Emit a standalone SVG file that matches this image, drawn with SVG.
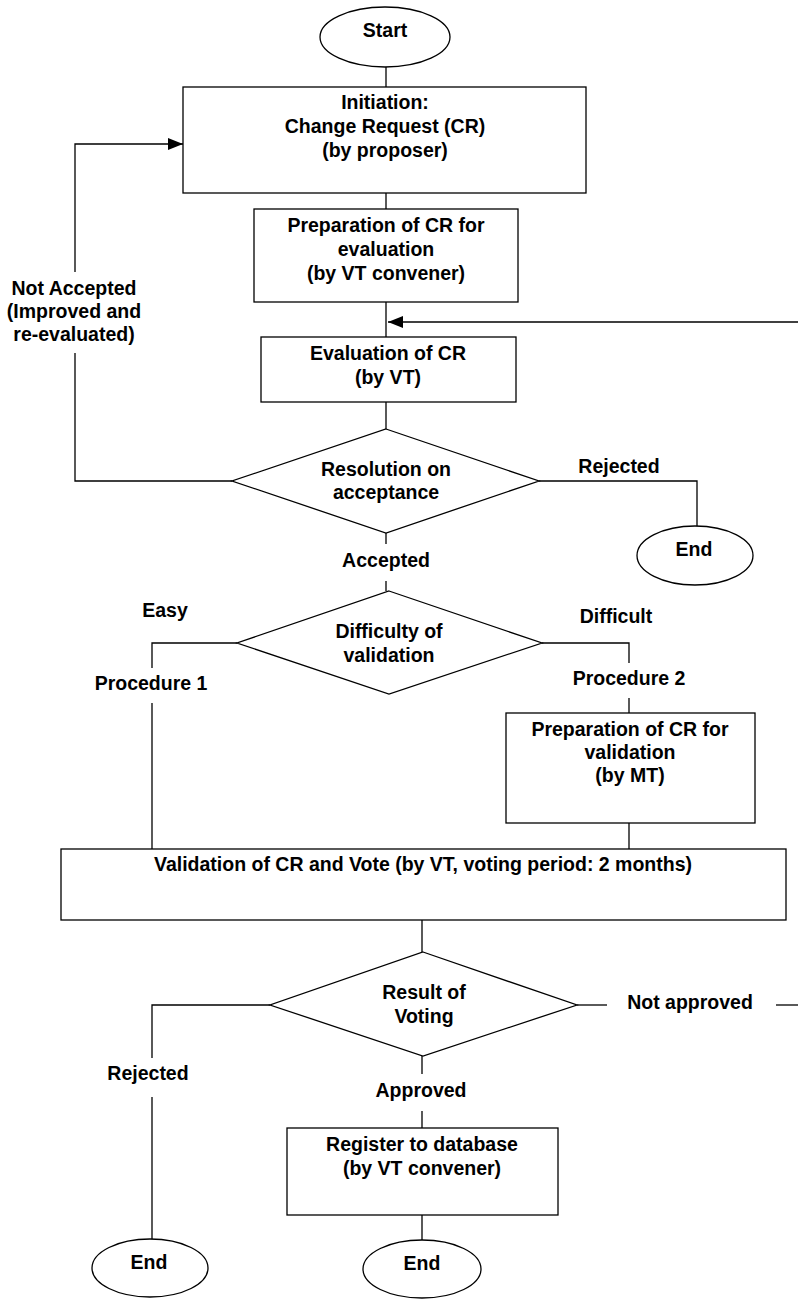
<svg xmlns="http://www.w3.org/2000/svg" width="798" height="1299" viewBox="0 0 798 1299">
<style>
  .s{fill:#fff;stroke:#000;stroke-width:1.3}
  .c{fill:none;stroke:#000;stroke-width:1.3}
  text{font-family:"Liberation Sans",Arial,sans-serif;font-weight:bold;font-size:19.5px;fill:#000;text-anchor:middle}
</style>
<defs>
  <marker id="arr" viewBox="0 0 15 12" refX="15" refY="6" markerWidth="15" markerHeight="12" markerUnits="userSpaceOnUse" orient="auto">
    <path d="M0,0 L15,6 L0,12 Z" fill="#000"/>
  </marker>
</defs>
<rect width="798" height="1299" fill="#fff"/>
<g id="connectors">
  <line class="c" x1="386" y1="67" x2="386" y2="87"/>
  <line class="c" x1="386" y1="193" x2="386" y2="209"/>
  <line class="c" x1="386" y1="302" x2="386" y2="337"/>
  <line class="c" x1="386" y1="402" x2="386" y2="429"/>
  <line class="c" x1="798" y1="322" x2="388" y2="322" marker-end="url(#arr)"/>
  <polyline class="c" points="232,481 75,481 75,353"/>
  <polyline class="c" points="75,272 75,144 183,144" marker-end="url(#arr)"/>
  <polyline class="c" points="539,481 697,481 697,526"/>
  <line class="c" x1="386" y1="533" x2="386" y2="544"/>
  <line class="c" x1="386" y1="581" x2="386" y2="591"/>
  <polyline class="c" points="237,643 152,643 152,668"/>
  <line class="c" x1="152" y1="703" x2="152" y2="849"/>
  <polyline class="c" points="542,643 629,643 629,663"/>
  <line class="c" x1="629" y1="698" x2="629" y2="713"/>
  <line class="c" x1="629" y1="823" x2="629" y2="849"/>
  <line class="c" x1="422" y1="920" x2="422" y2="952"/>
  <polyline class="c" points="270,1005 152,1005 152,1058"/>
  <line class="c" x1="152" y1="1097" x2="152" y2="1239"/>
  <line class="c" x1="577" y1="1005" x2="607" y2="1005"/>
  <line class="c" x1="776" y1="1005" x2="798" y2="1005"/>
  <line class="c" x1="422" y1="1056" x2="422" y2="1074"/>
  <line class="c" x1="422" y1="1111" x2="422" y2="1128"/>
  <line class="c" x1="422" y1="1215" x2="422" y2="1240"/>
</g>
<g id="labels">
  <text x="74" y="295">Not Accepted</text>
  <text x="74" y="318">(Improved and</text>
  <text x="74" y="341">re-evaluated)</text>
  <text x="619" y="473">Rejected</text>
  <text x="386" y="567">Accepted</text>
  <text x="165" y="617">Easy</text>
  <text x="616" y="623">Difficult</text>
  <text x="151" y="690">Procedure 1</text>
  <text x="629" y="685">Procedure 2</text>
  <text x="690" y="1009">Not approved</text>
  <text x="148" y="1080">Rejected</text>
  <text x="421" y="1097">Approved</text>
</g>
<g id="start">
  <ellipse class="s" cx="385" cy="37" rx="65" ry="30"/>
  <text x="385" y="37">Start</text>
</g>
<g id="initiation">
  <rect class="s" x="183" y="87" width="403" height="106"/>
  <text x="385" y="109">Initiation:</text>
  <text x="385" y="133">Change Request (CR)</text>
  <text x="385" y="157">(by proposer)</text>
</g>
<g id="prep-eval">
  <rect class="s" x="254" y="209" width="264" height="93"/>
  <text x="386" y="232">Preparation of CR for</text>
  <text x="386" y="256">evaluation</text>
  <text x="386" y="280">(by VT convener)</text>
</g>
<g id="evaluation">
  <rect class="s" x="261" y="337" width="255" height="65"/>
  <text x="388" y="360">Evaluation of CR</text>
  <text x="388" y="384">(by VT)</text>
</g>
<g id="resolution">
  <polygon class="s" points="386,429 539,481 386,533 232,481"/>
  <text x="386" y="476">Resolution on</text>
  <text x="386" y="499">acceptance</text>
</g>
<g id="end1">
  <ellipse class="s" cx="695" cy="555.5" rx="58" ry="29.5"/>
  <text x="694" y="556">End</text>
</g>
<g id="difficulty">
  <polygon class="s" points="389,591 542,643 389,694 237,643"/>
  <text x="389" y="638">Difficulty of</text>
  <text x="389" y="662">validation</text>
</g>
<g id="prep-validation">
  <rect class="s" x="506" y="713" width="249" height="110"/>
  <text x="630" y="736">Preparation of CR for</text>
  <text x="630" y="759">validation</text>
  <text x="630" y="782">(by MT)</text>
</g>
<g id="validation">
  <rect class="s" x="61" y="849" width="725" height="71"/>
  <text x="423" y="871">Validation of CR and Vote (by VT, voting period: 2 months)</text>
</g>
<g id="result">
  <polygon class="s" points="423,952 577,1005 423,1056 270,1005"/>
  <text x="424" y="999">Result of</text>
  <text x="424" y="1023">Voting</text>
</g>
<g id="register">
  <rect class="s" x="287" y="1128" width="271" height="87"/>
  <text x="422" y="1151">Register to database</text>
  <text x="422" y="1175">(by VT convener)</text>
</g>
<g id="end2">
  <ellipse class="s" cx="150" cy="1268" rx="58" ry="29"/>
  <text x="149" y="1269">End</text>
</g>
<g id="end3">
  <ellipse class="s" cx="422" cy="1269" rx="59" ry="29"/>
  <text x="422" y="1270">End</text>
</g>
</svg>
